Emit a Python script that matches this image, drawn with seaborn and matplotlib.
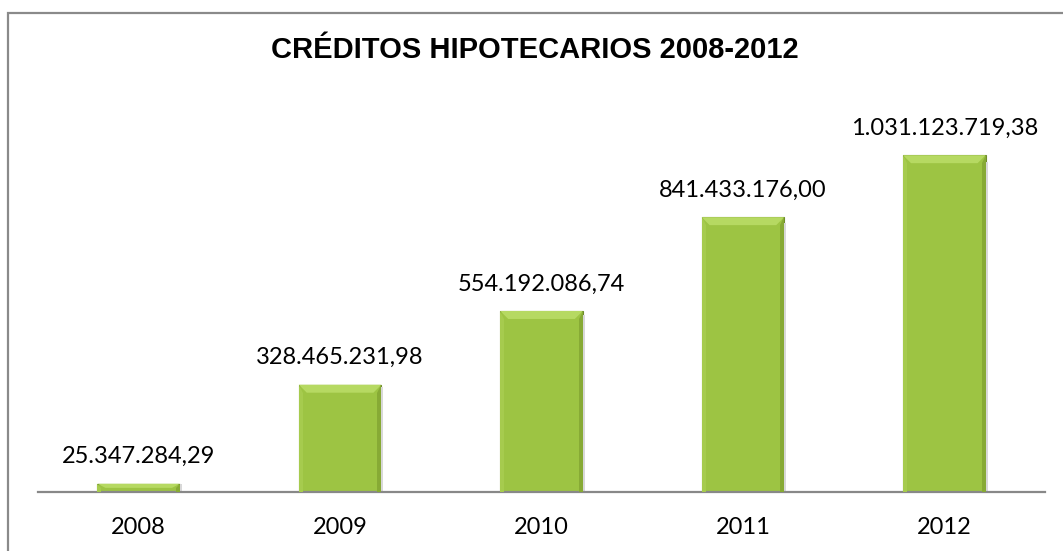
import numpy as np
import pandas as pd
import matplotlib
matplotlib.use("Agg")
import matplotlib.pyplot as plt
from matplotlib.patches import Polygon, Rectangle
import seaborn as sns

years = ["2008", "2009", "2010", "2011", "2012"]
values = [25347284.29, 328465231.98, 554192086.74, 841433176.00, 1031123719.38]
labels = ["25.347.284,29", "328.465.231,98", "554.192.086,74", "841.433.176,00", "1.031.123.719,38"]

df = pd.DataFrame({"year": years, "value": values})

sns.set_style("white")
plt.rcParams["font.family"] = ["Lato", "DejaVu Sans"]

fig = plt.figure(figsize=(10.63, 5.51), dpi=100)
ax = fig.add_axes([38 / 1063, 1 - 492 / 551, (1045 - 38) / 1063, 392 / 551])

sns.barplot(data=df, x="year", y="value", color="#9DC443", width=0.41,
            saturation=1, ax=ax, edgecolor="#6E8C2B", linewidth=0.8)
ax.set_ylim(0, 1.2e9)
ax.set_xlim(-0.5, 4.5)

# bevel look on each bar
px_y = 1.2e9 / 392
px_x = 5 / (1045 - 38)
for p in ax.patches:
    x0, w, h = p.get_x(), p.get_width(), p.get_height()
    x1 = x0 + w
    bx = min(8 * px_x, w / 2)
    by = min(8 * px_y, h / 2)
    ax.add_patch(Polygon([(x0, h), (x1, h), (x1 - bx, h - by), (x0 + bx, h - by)],
                         closed=True, facecolor="#B6D962", edgecolor="none", zorder=3))
    ax.add_patch(Polygon([(x1, h), (x1, 0), (x1 - bx * 0.5, 0), (x1 - bx * 0.5, h - by)],
                         closed=True, facecolor="#87AA35", edgecolor="none", zorder=3))
    ax.add_patch(Polygon([(x0, h), (x0, 0), (x0 + bx * 0.5, 0), (x0 + bx * 0.5, h - by)],
                         closed=True, facecolor="#A6CB4E", edgecolor="none", zorder=3))
    # soft shadow
    ax.add_patch(Rectangle((x1, 0), 2 * px_x, h * 0.98, facecolor="#d8d8d8",
                           edgecolor="none", zorder=1, clip_on=False))

for i, (v, lab) in enumerate(zip(values, labels)):
    ax.annotate(lab, (i, v), xytext=(0, 19.5), textcoords="offset points",
                ha="center", va="center", fontsize=17, color="#000000")

sns.despine(ax=ax, left=True, top=True, right=True)
ax.spines["bottom"].set_color("#888888")
ax.spines["bottom"].set_linewidth(1.6)
ax.set_yticks([])
ax.set_xlabel("")
ax.set_ylabel("")
ax.tick_params(axis="x", length=0, pad=18, labelsize=17, labelcolor="#000000")

fig.text(0.503, 1 - 50 / 551, "CRÉDITOS HIPOTECARIOS 2008-2012", ha="center", va="center",
         fontsize=21, fontweight="bold", color="#000000",
         family=["Liberation Sans", "DejaVu Sans"])

# outer chart frame
fig.patches.append(Rectangle((8 / 1063, -0.05), 1.1, 1 - 13 / 551 + 0.05, transform=fig.transFigure,
                             fill=False, edgecolor="#8a8a8a", linewidth=1.6, zorder=0))

fig.savefig("out.png", dpi=100)
